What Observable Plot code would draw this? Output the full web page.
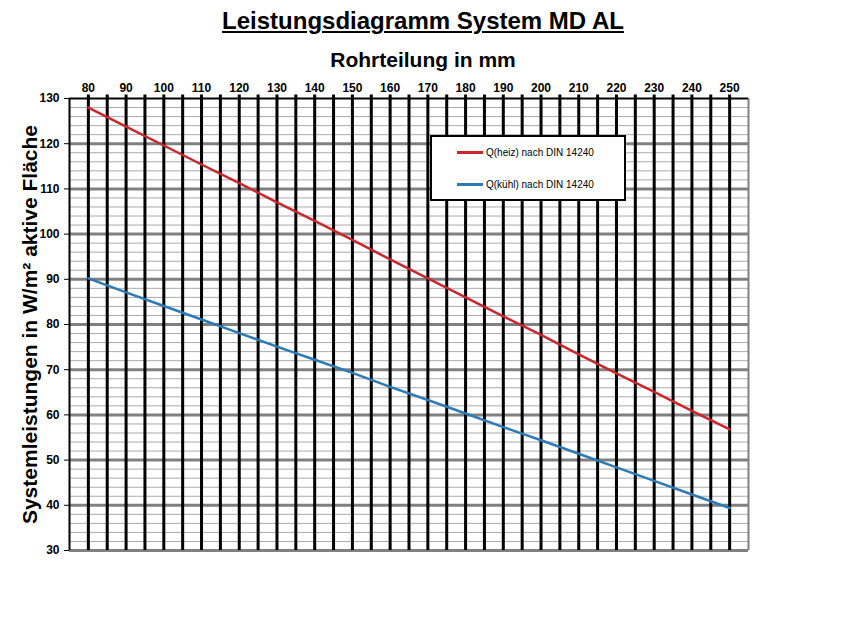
<!DOCTYPE html>
<html>
<head>
<meta charset="utf-8">
<script src="https://cdn.jsdelivr.net/npm/d3@7"></script>
<script src="https://cdn.jsdelivr.net/npm/@observablehq/plot@0.6"></script>
<style>
  html, body { margin: 0; padding: 0; background: #fff; }
  body { width: 846px; height: 640px; position: relative; overflow: hidden; font-family: "Liberation Sans", Arial, sans-serif; }
  #title { position: absolute; left: 0; width: 846px; top: 7px; text-align: center; font-size: 24px; font-weight: bold; line-height: 28px; }
  #title span { text-decoration: underline; text-decoration-thickness: 2px; text-underline-offset: 2px; }
  #subtitle { position: absolute; left: 0; width: 846px; top: 48px; text-align: center; font-size: 21px; font-weight: bold; line-height: 24px; }
  #chart { position: absolute; left: 0; top: 72px; }
  #chart svg text { font-family: "Liberation Sans", Arial, sans-serif; }
  #legend { position: absolute; left: 430px; top: 135px; width: 192px; height: 62px; border: 2px solid #000; background: #fff; font-size: 10px; }
  .item { position: absolute; left: 25px; height: 12px; line-height: 12px; white-space: nowrap; }
  .item i { display: inline-block; width: 26px; height: 2.5px; vertical-align: middle; margin-right: 3px; position: relative; top: -1px; }
</style>
</head>
<body>
<div id="title"><span>Leistungsdiagramm System MD AL</span></div>
<div id="subtitle">Rohrteilung in mm</div>
<div id="chart"></div>
<div id="legend"></div>
<script>
// Data
const rohrteilung = [80, 90, 100, 110, 120, 130, 140, 150, 160, 170, 180, 190, 200, 210, 220, 230, 240, 250];
const qHeiz  = [128.0, 123.8, 119.6, 115.4, 111.3, 107.0, 102.9, 98.7, 94.4, 90.2, 86.0, 81.8, 77.7, 73.4, 69.2, 65.1, 60.9, 56.8];
const qKuehl = [90.2, 87.1, 84.1, 81.1, 78.1, 75.1, 72.2, 69.3, 66.2, 63.3, 60.3, 57.3, 54.4, 51.4, 48.4, 45.4, 42.4, 39.4];
const seriesNames = ["Q(heiz) nach DIN 14240", "Q(kühl) nach DIN 14240"];
const seriesColors = ["#c8272d", "#2c7bb6"];
const xTicks = [80, 90, 100, 110, 120, 130, 140, 150, 160, 170, 180, 190, 200, 210, 220, 230, 240, 250];
const yTicks = [30, 40, 50, 60, 70, 80, 90, 100, 110, 120, 130];
const yLabel = "Systemleistungen in W/m² aktive Fläche";

const rows = [];
rohrteilung.forEach((r, i) => {
  rows.push({x: r, y: qHeiz[i], s: seriesNames[0]});
  rows.push({x: r, y: qKuehl[i], s: seriesNames[1]});
});

const vLines = d3.range(80, 251, 5);
const minorY = d3.range(32, 130, 2).filter(v => v % 10 !== 0);
const majorY = [40, 50, 60, 70, 80, 90, 100, 110, 120];

const chart = Plot.plot({
  width: 846,
  height: 568,
  marginLeft: 69,
  marginRight: 98,
  marginTop: 26,
  marginBottom: 90,
  x: {domain: [75, 255]},
  y: {domain: [30, 130]},
  color: {domain: seriesNames, range: seriesColors},
  marks: [
    Plot.ruleY(minorY, {stroke: "#ababab", strokeWidth: 1}),
    Plot.ruleY(majorY, {stroke: "#808080", strokeWidth: 3}),
    Plot.ruleY([30], {stroke: "#808080", strokeWidth: 3}),
    Plot.ruleX(vLines, {y1: 30, y2: 130.8, stroke: "#000", strokeWidth: 3}),
    Plot.ruleX([75], {y1: 30, y2: 130, stroke: "#000", strokeWidth: 2}),
    Plot.ruleX([255], {y1: 30, y2: 130, stroke: "#808080", strokeWidth: 2}),
    Plot.ruleY([130], {stroke: "#000", strokeWidth: 2}),
    Plot.line(rows, {x: "x", y: "y", z: "s", stroke: "s", strokeWidth: 2.5}),
    Plot.axisX({anchor: "top", ticks: xTicks, tickSize: 0, tickPadding: 7, label: null, fontSize: 12, fontWeight: "bold", fill: "#000"}),
    Plot.axisY({anchor: "left", ticks: yTicks, tickSize: 5, tickPadding: 5, label: null, fontSize: 12, fontWeight: "bold", fill: "#000", stroke: "#000"}),
    Plot.text([yLabel], {text: d => d, frameAnchor: "left", dx: -39, rotate: -90, textAnchor: "middle", lineAnchor: "middle", fontSize: 21, fontWeight: "bold", fill: "#000"})
  ]
});
document.getElementById("chart").appendChild(chart);

const legend = document.getElementById("legend");
seriesNames.forEach((n, i) => {
  const d = document.createElement("div");
  d.className = "item";
  d.style.top = (i === 0 ? 10 : 42) + "px";
  d.innerHTML = `<i style="background:${seriesColors[i]}"></i>${n}`;
  legend.appendChild(d);
});
</script>
</body>
</html>
